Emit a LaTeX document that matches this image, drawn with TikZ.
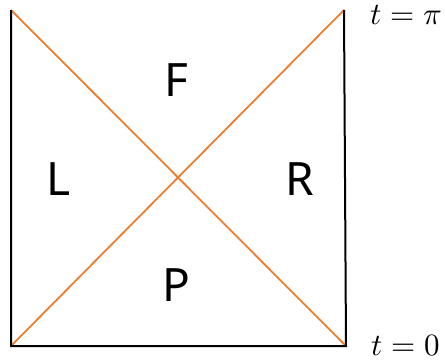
\documentclass[tikz,border=0pt]{standalone}
\usepackage{fontspec}
\setmainfont{Noto Sans}
\usepackage{unicode-math}
\setmathfont{Latin Modern Math}
\begin{document}
\begin{tikzpicture}[x=1pt,y=-1pt,
  edge/.style={line width=2pt,black},
  diag/.style={line width=1.8pt,color={rgb,255:red,237;green,125;blue,49}},
  region/.style={font=\fontsize{46}{50}\selectfont,inner sep=0pt},
  tlabel/.style={font=\fontsize{31}{36}\selectfont,inner sep=0pt}]
\useasboundingbox (0,0) rectangle (445,364);
\coordinate (tl) at (11,10);
\coordinate (tr) at (344,10);
\coordinate (bl) at (11,346);
\coordinate (br) at (346,346);
\draw[diag] (tl) -- (br);
\draw[diag] (bl) -- (tr);
\draw[edge] (tl) -- (bl) -- (br) -- (tr);
\node[region] (F) at (176,80) {F};
\node[region] (L) at (59,179) {L};
\node[region] (R) at (300,179) {R};
\node[region] (P) at (176,285) {P};
\node[tlabel] (tpi) at (406,15) {$t=\pi$};
\node[tlabel] (t0) at (406,346) {$t=0$};
\end{tikzpicture}
\end{document}
